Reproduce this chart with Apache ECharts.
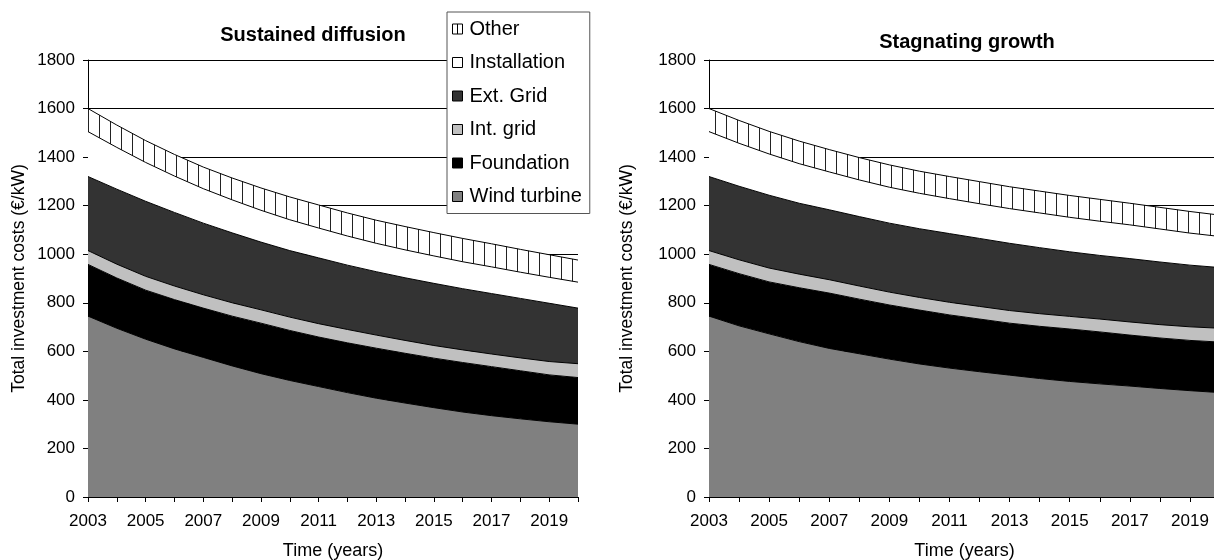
<!DOCTYPE html>
<html>
<head>
<meta charset="utf-8">
<script src="https://cdn.jsdelivr.net/npm/echarts@6/dist/echarts.min.js"></script>
<style>
  html, body { margin: 0; padding: 0; background: #fff; }
  #chart { width: 1214px; height: 560px; }
</style>
</head>
<body>
<div id="chart"></div>
<script>
// years on the x axis
var years = ['2003', '2004', '2005', '2006', '2007', '2008', '2009', '2010', '2011',
  '2012', '2013', '2014', '2015', '2016', '2017', '2018', '2019', '2020']

var seriesNames = ['Wind turbine', 'Foundation', 'Int. grid', 'Ext. Grid', 'Installation', 'Other']

// Sustained diffusion (€/kW per component)
var sdWindTurbine = [745, 695, 650, 610, 575, 540, 508, 480, 455, 430, 407, 387, 368, 350, 335, 322, 310, 300]
var sdFoundation = [213, 207, 202, 203, 203, 205, 208, 206, 204, 205, 206, 205, 204, 204, 202, 198, 193, 192]
var sdIntGrid = [57, 57, 57, 56, 55, 55, 55, 55, 55, 55, 54, 53, 52, 52, 52, 53, 55, 57]
var sdExtGrid = [305, 309, 309, 303, 295, 288, 279, 274, 271, 265, 261, 258, 256, 252, 249, 245, 240, 229]
var sdInstallation = [185, 172, 160, 150, 142, 136, 131, 127, 123, 120, 117, 115, 113, 111, 110, 108, 107, 107]
var sdOther = [95, 92, 90, 89, 89, 90, 92, 94, 95, 95, 95, 96, 96, 96, 95, 94, 93, 91]

// Stagnating growth (€/kW per component)
var sgWindTurbine = [745, 705, 672, 640, 612, 590, 568, 548, 531, 516, 502, 488, 476, 466, 457, 447, 438, 430]
var sgFoundation = [213, 215, 214, 222, 228, 225, 223, 222, 219, 217, 214, 215, 216, 214, 210, 208, 207, 208]
var sgIntGrid = [57, 57, 57, 56, 55, 54, 53, 52, 52, 52, 52, 52, 52, 53, 54, 55, 56, 57]
var sgExtGrid = [305, 303, 300, 292, 288, 286, 284, 283, 283, 280, 277, 272, 266, 262, 261, 258, 254, 250]
var sgInstallation = [185, 177, 170, 163, 156, 151, 148, 146, 144, 143, 143, 143, 142, 141, 139, 136, 132, 128]
var sgOther = [95, 94, 93, 93, 92, 92, 92, 91, 91, 91, 90, 90, 90, 90, 89, 89, 89, 88]

var yTicks = [0, 200, 400, 600, 800, 1000, 1200, 1400, 1600, 1800]

// vertical hatch for "Other"
var hatch = document.createElement('canvas')
hatch.width = 11
hatch.height = 11
var hctx = hatch.getContext('2d')
hctx.fillStyle = '#ffffff'
hctx.fillRect(0, 0, 11, 11)
hctx.fillStyle = '#222222'
hctx.fillRect(0, 0, 1, 11)

var fills = ['#808080', '#000000', '#c0c0c0', '#333333', '#ffffff', { image: hatch, repeat: 'repeat' }]
var legendFills = ['#808080', '#000000', '#c0c0c0', '#333333', '#ffffff', '#ffffff']

var font = 'Liberation Sans'

function makeSeries(idx, stack, lists) {
  return lists.map(function (vals, i) {
    return {
      name: seriesNames[i],
      type: 'line',
      stack: stack,
      xAxisIndex: idx,
      yAxisIndex: idx,
      symbol: 'none',
      smooth: false,
      data: vals,
      itemStyle: { color: legendFills[i] },
      lineStyle: { color: '#000', width: 1 },
      areaStyle: { color: fills[i], opacity: 1 },
      emphasis: { disabled: true },
      silent: true
    }
  })
}

function xAxis(idx) {
  return {
    type: 'category',
    gridIndex: idx,
    data: years,
    boundaryGap: false,
    name: 'Time (years)',
    nameLocation: 'middle',
    nameGap: 45,
    nameTextStyle: { fontFamily: font, fontSize: 18, color: '#000' },
    axisLine: { lineStyle: { color: '#000', width: 1 } },
    axisTick: { interval: 0, length: 5, lineStyle: { color: '#000' } },
    axisLabel: { interval: 1, fontFamily: font, fontSize: 17, color: '#000', margin: 16 },
    splitLine: { show: false }
  }
}

function yAxis(idx, gap) {
  return {
    type: 'value',
    gridIndex: idx,
    min: yTicks[0],
    max: yTicks[yTicks.length - 1],
    interval: 200,
    name: 'Total investment costs (€/kW)',
    nameLocation: 'middle',
    nameGap: gap,
    nameTextStyle: { fontFamily: font, fontSize: 17.5, color: '#000' },
    axisLine: { show: true, lineStyle: { color: '#000', width: 1 } },
    axisTick: { show: true, length: 5, lineStyle: { color: '#000' } },
    axisLabel: {
      fontFamily: font, fontSize: 17, color: '#000', margin: 13,
      formatter: function (v) { return String(v) }
    },
    splitLine: { show: true, lineStyle: { color: '#000', width: 1 } }
  }
}

var legendOrder = [5, 4, 3, 2, 1, 0]

var option = {
  backgroundColor: '#ffffff',
  animation: false,
  title: [
    {
      text: 'Sustained diffusion',
      left: 308, top: 20, textAlign: 'center',
      textStyle: { fontFamily: font, fontSize: 20, fontWeight: 'bold', color: '#000' }
    },
    {
      text: 'Stagnating growth',
      left: 962, top: 27, textAlign: 'center',
      textStyle: { fontFamily: font, fontSize: 20, fontWeight: 'bold', color: '#000' }
    }
  ],
  legend: {
    orient: 'vertical',
    left: 447,
    top: 12,
    padding: [7, 8, 7, 5],
    itemWidth: 10,
    itemHeight: 10,
    itemGap: 13.5,
    backgroundColor: '#ffffff',
    borderColor: '#555',
    borderWidth: 1,
    selectedMode: false,
    textStyle: { fontFamily: font, fontSize: 20, color: '#000', padding: [0, 0, 0, 2] },
    data: legendOrder.map(function (i) {
      return {
        name: seriesNames[i],
        icon: i === 5 ? 'path://M0,0H10V10H0Z M5,0V10' : 'rect',
        itemStyle: { color: legendFills[i], borderColor: '#000', borderWidth: 1 }
      }
    })
  },
  grid: [
    { left: 88, top: 60, right: 636, bottom: 63, outerBoundsMode: 'none', containLabel: false },
    { left: 709, top: 60, right: -6, bottom: 63, outerBoundsMode: 'none', containLabel: false }
  ],
  xAxis: [xAxis(0), xAxis(1)],
  yAxis: [yAxis(0, 60), yAxis(1, 73)],
  series: makeSeries(0, 'sd', [sdWindTurbine, sdFoundation, sdIntGrid, sdExtGrid, sdInstallation, sdOther])
    .concat(makeSeries(1, 'sg', [sgWindTurbine, sgFoundation, sgIntGrid, sgExtGrid, sgInstallation, sgOther]))
}

var myChart = echarts.init(document.getElementById('chart'), null, { renderer: 'canvas' })
myChart.setOption(option)
</script>
</body>
</html>
